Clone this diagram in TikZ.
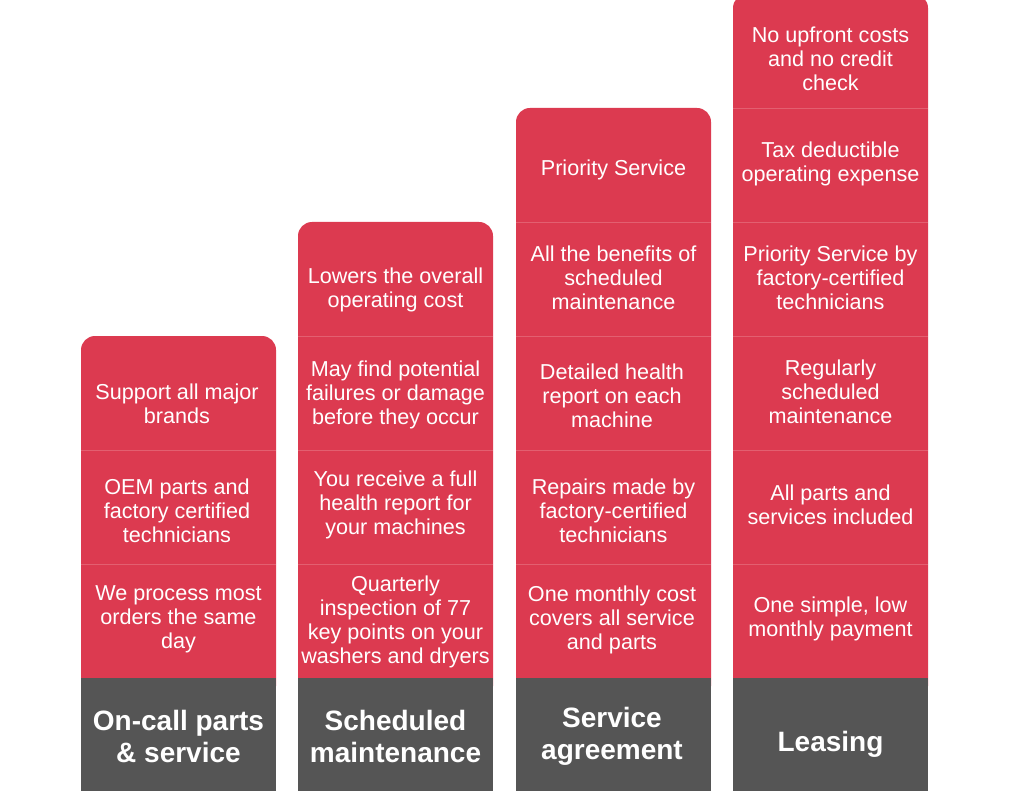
\documentclass[tikz,border=0pt]{standalone}
\usepackage{fontspec}
\setmainfont{Liberation Sans}
\definecolor{cellred}{HTML}{DC3A50}
\definecolor{sepred}{HTML}{E35F70}
\definecolor{headgray}{HTML}{555555}
\tikzset{
  colbox/.style={fill=cellred, rounded corners=14pt},
  headbox/.style={fill=headgray},
  sepline/.style={draw=sepred, line width=0.8pt},
  celltext/.style={text=white, align=center, inner sep=0pt, yshift=-2.5pt, font=\fontsize{21.6}{24}\selectfont},
  headtext/.style={text=white, align=center, inner sep=0pt, yshift=-2pt, font=\bfseries\fontsize{28}{32}\selectfont},
}
\begin{document}
\begin{tikzpicture}[x=1pt,y=-1pt]
\useasboundingbox (0,0) rectangle (1024,791);
\begin{scope}
\clip (0,0) rectangle (1024,791);
% columns
\fill[colbox] (81,336) rectangle (276,700);
\fill[colbox] (298,222) rectangle (493,700);
\fill[colbox] (516,108) rectangle (711,700);
\fill[colbox] (733,-6) rectangle (928,700);
% separators
\foreach \y in {450,564} \draw[sepline] (81,\y) -- (276,\y);
\foreach \y in {336,450,564} \draw[sepline] (298,\y) -- (493,\y);
\foreach \y in {222,336,450,564} \draw[sepline] (516,\y) -- (711,\y);
\foreach \y in {108,222,336,450,564} \draw[sepline] (733,\y) -- (928,\y);
% header boxes
\fill[headbox] (81,678) rectangle (276,800);
\fill[headbox] (298,678) rectangle (493,800);
\fill[headbox] (516,678) rectangle (711,800);
\fill[headbox] (733,678) rectangle (928,800);
\end{scope}
% column 1
\node[celltext] (a1) at (177,401) {Support all major\\brands};
\node[celltext] (a2) at (177,508.5) {OEM parts and\\factory certified\\technicians};
\node[celltext] (a3) at (178.5,617) {We process most\\orders the same\\day};
\node[headtext] (ah) at (178.5,734) {On-call parts\\\& service};
% column 2
\node[celltext] (b1) at (395.5,287) {Lowers the overall\\operating cost};
\node[celltext] (b2) at (395.5,392.5) {May find potential\\failures or damage\\before they occur};
\node[celltext] (b3) at (395.5,502) {You receive a full\\health report for\\your machines};
\node[celltext] (b4) at (395.5,619) {Quarterly\\inspection of 77\\key points on your\\washers and dryers};
\node[headtext] (bh) at (395.5,734) {Scheduled\\maintenance};
% column 3
\node[celltext] (c1) at (613.5,167) {Priority Service};
\node[celltext] (c2) at (613.5,275) {All the benefits of\\scheduled\\maintenance};
\node[celltext] (c3) at (612,393) {Detailed health\\report on each\\machine};
\node[celltext] (c4) at (613.5,508.5) {Repairs made by\\factory-certified\\technicians};
\node[celltext] (c5) at (612,617) {One monthly cost\\covers all service\\and parts};
\node[headtext] (ch) at (612,734) {Service\\agreement};
% column 4
\node[celltext] (d1) at (830.5,56) {No upfront costs\\and no credit\\check};
\node[celltext] (d2) at (830.5,161.5) {Tax deductible\\operating expense};
\node[celltext] (d3) at (830.5,275) {Priority Service by\\factory-certified\\technicians};
\node[celltext] (d4) at (830.5,389.5) {Regularly\\scheduled\\maintenance};
\node[celltext] (d5) at (830.5,502) {All parts and\\services included};
\node[celltext] (d6) at (830.5,616) {One simple, low\\monthly payment};
\node[headtext] (dh) at (830.5,742) {Leasing};
\end{tikzpicture}
\end{document}
